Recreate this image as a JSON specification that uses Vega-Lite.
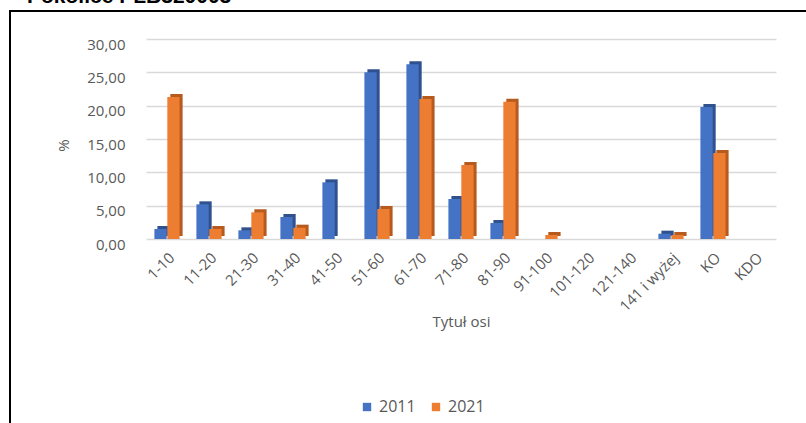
{
  "$schema": "https://vega.github.io/schema/vega-lite/v6.json",
  "autosize": {"type": "none"},
  "padding": {"left": 10, "top": 11, "right": 0, "bottom": 0},
  "width": 800,
  "height": 420,
  "title": {"text": "Pokolice PLB320003", "anchor": "start", "font": "Liberation Sans", "fontSize": 21, "fontWeight": "bold", "color": "#000000", "dx": 17, "offset": 4},
  "config": {
    "locale": {"number": {"decimal": ",", "thousands": " ", "grouping": [3], "currency": ["", " zł"]}},
    "view": {"stroke": "#000000", "strokeWidth": 2},
    "font": "Open Sans"
  },
  "data": {
    "values": [
      {"cat": "1-10", "year": "2011", "value": 1.5},
      {"cat": "1-10", "year": "2021", "value": 21.3},
      {"cat": "11-20", "year": "2011", "value": 5.2},
      {"cat": "11-20", "year": "2021", "value": 1.5},
      {"cat": "21-30", "year": "2011", "value": 1.3},
      {"cat": "21-30", "year": "2021", "value": 4.0},
      {"cat": "31-40", "year": "2011", "value": 3.3},
      {"cat": "31-40", "year": "2021", "value": 1.7},
      {"cat": "41-50", "year": "2011", "value": 8.5},
      {"cat": "51-60", "year": "2011", "value": 25.0},
      {"cat": "51-60", "year": "2021", "value": 4.5},
      {"cat": "61-70", "year": "2011", "value": 26.2},
      {"cat": "61-70", "year": "2021", "value": 21.0},
      {"cat": "71-80", "year": "2011", "value": 6.0},
      {"cat": "71-80", "year": "2021", "value": 11.1},
      {"cat": "81-90", "year": "2011", "value": 2.4},
      {"cat": "81-90", "year": "2021", "value": 20.6},
      {"cat": "91-100", "year": "2021", "value": 0.6},
      {"cat": "141 i wyżej", "year": "2011", "value": 0.8},
      {"cat": "141 i wyżej", "year": "2021", "value": 0.6},
      {"cat": "KO", "year": "2011", "value": 19.8},
      {"cat": "KO", "year": "2021", "value": 12.9}
    ]
  },
  "encoding": {
    "x": {
      "field": "cat", "type": "nominal",
      "scale": {"domain": ["1-10","11-20","21-30","31-40","41-50","51-60","61-70","71-80","81-90","91-100","101-120","121-140","141 i wyżej","KO","KDO"], "range": [136, 766], "paddingInner": 0.4, "paddingOuter": 0.2},
      "axis": {"title": "Tytuł osi", "offset": -186, "labelAngle": -45, "labelFontSize": 15, "labelColor": "#595959", "labelPadding": 5, "ticks": false, "domain": false, "titleFontSize": 15, "titleFontWeight": "normal", "titleColor": "#595959", "titlePadding": 0}
    },
    "y": {
      "field": "value", "type": "quantitative",
      "scale": {"domain": [0, 30], "range": [228, 28], "nice": false},
      "axis": {"title": "%", "offset": -118, "values": [0,5,10,15,20,25,30], "format": ".2f", "labelFontSize": 15, "labelColor": "#595959", "labelPadding": 3, "labelOffset": 5, "ticks": false, "domain": false, "gridColor": "#D9D9D9", "gridWidth": 1.5, "titleFontSize": 15, "titleFontWeight": "normal", "titleColor": "#595959", "titlePadding": 15, "titleY": 134}
    }
  },
  "layer": [
    {
      "mark": {"type": "bar", "yOffset": -3},
      "encoding": {
        "xOffset": {"field": "year", "type": "nominal", "scale": {"domain": ["2011","2021"], "range": [3, 28.2], "paddingInner": 0.05}},
        "fill": {"condition": {"test": "datum.year === '2011'", "value": "#2F528F"}, "value": "#B65A1E"}
      }
    },
    {
      "mark": {"type": "bar"},
      "encoding": {
        "xOffset": {"field": "year", "type": "nominal", "scale": {"domain": ["2011","2021"], "range": [0, 25.2], "paddingInner": 0.05}},
        "color": {"field": "year", "type": "nominal", "scale": {"domain": ["2011","2021"], "range": ["#4472C4", "#ED7D31"]},
          "legend": {"title": null, "orient": "none", "direction": "horizontal", "legendX": 349, "legendY": 388, "symbolType": "square", "symbolSize": 70, "symbolStrokeWidth": 0, "labelFontSize": 16, "labelColor": "#595959", "columnPadding": 12}}
      }
    }
  ],
  "resolve": {"scale": {"xOffset": "independent"}}
}
